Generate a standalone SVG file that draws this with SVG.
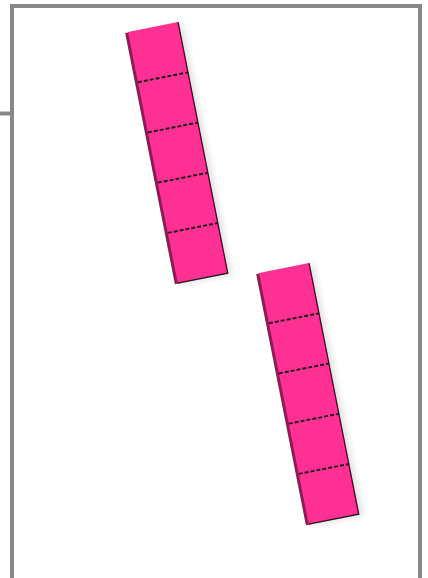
<svg xmlns="http://www.w3.org/2000/svg" width="428" height="578" viewBox="0 0 428 578">
  <style>
    .frame { fill: none; stroke: #888888; stroke-width: 4; }
    .side { fill: #9e1257; }
    .face { fill: #fe3094; }
    .edge { fill: none; stroke: #1a1a1a; stroke-width: 1.3; }
    .div { stroke: #1a1a1a; stroke-width: 1.9; stroke-dasharray: 4 2; }
    .shadow { fill: #000000; opacity: 0.12; }
  </style>
  <defs>
    <filter id="blur" x="-20%" y="-10%" width="140%" height="120%">
      <feGaussianBlur stdDeviation="3"/>
    </filter>
  </defs>
  <rect width="428" height="578" fill="#ffffff"/>
  <g id="frame">
    <polyline class="frame" points="12,578 12,6 420,6 420,578"/>
    <line class="frame" x1="0" y1="113.5" x2="12" y2="113.5"/>
  </g>
  <g id="bar1" transform="translate(128,32) rotate(-11.2)">
    <rect class="shadow" x="4" y="2" width="51" height="256" filter="url(#blur)"/>
    <rect class="side" x="-3" y="0.5" width="6" height="256"/>
    <rect class="face" x="0" y="0" width="51" height="256"/>
    <polyline class="edge" points="51,0 51,256 0,256"/>
    <line class="div" x1="0" y1="51.2" x2="51" y2="51.2"/>
    <line class="div" x1="0" y1="102.4" x2="51" y2="102.4"/>
    <line class="div" x1="0" y1="153.6" x2="51" y2="153.6"/>
    <line class="div" x1="0" y1="204.8" x2="51" y2="204.8"/>
  </g>
  <g id="bar2" transform="translate(259,273) rotate(-11.2)">
    <rect class="shadow" x="4" y="2" width="51" height="256" filter="url(#blur)"/>
    <rect class="side" x="-3" y="0.5" width="6" height="256"/>
    <rect class="face" x="0" y="0" width="51" height="256"/>
    <polyline class="edge" points="51,0 51,256 0,256"/>
    <line class="div" x1="0" y1="51.2" x2="51" y2="51.2"/>
    <line class="div" x1="0" y1="102.4" x2="51" y2="102.4"/>
    <line class="div" x1="0" y1="153.6" x2="51" y2="153.6"/>
    <line class="div" x1="0" y1="204.8" x2="51" y2="204.8"/>
  </g>
</svg>
